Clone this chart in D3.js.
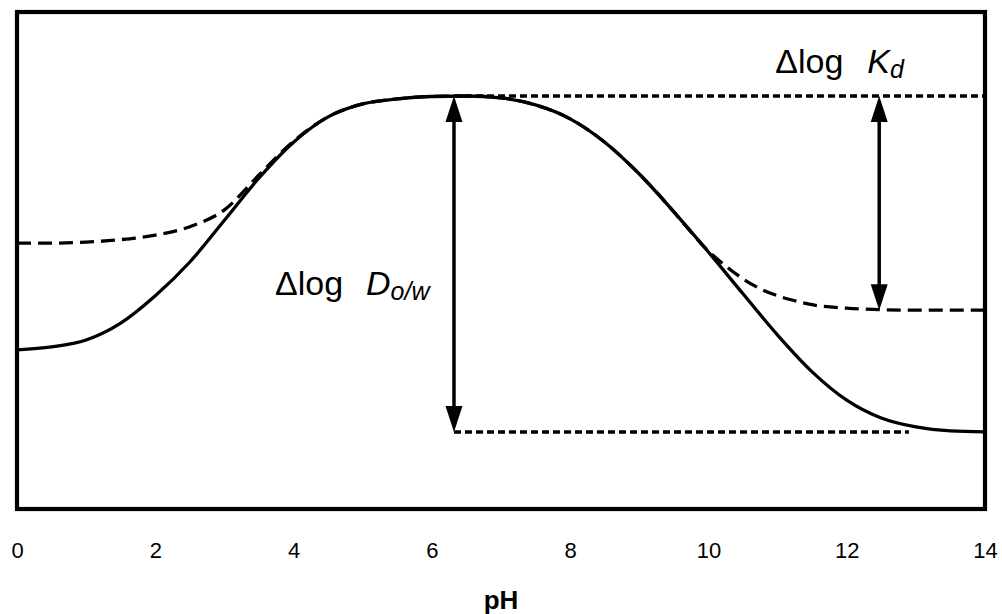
<!DOCTYPE html>
<html>
<head>
<meta charset="utf-8">
<script src="https://cdn.jsdelivr.net/npm/d3@7"></script>
<style>
  html, body { margin: 0; padding: 0; background: #fff; }
  svg { display: block; font-family: "Liberation Sans", Arial, sans-serif; }
</style>
</head>
<body>
<svg id="chart" width="1002" height="614"></svg>
<script>
// pH grid for the solid curve (log D o/w)
const phSolid = [0, 0.5, 1, 1.5, 2, 2.5, 3, 3.5, 4, 4.5, 5, 5.5, 6, 6.5, 7, 7.5,
                 8, 8.5, 9, 9.5, 10, 10.5, 11, 11.5, 12, 12.5, 13, 13.5, 14];
const logDow = [3.20, 3.26, 3.40, 3.74, 4.29, 4.97, 5.81, 6.66, 7.38, 7.89, 8.15, 8.25, 8.30, 8.31, 8.27, 8.13,
                7.85, 7.38, 6.74, 5.98, 5.17, 4.33, 3.50, 2.76, 2.19, 1.83, 1.65, 1.57, 1.55];

// pH grid for the dashed curve (log Kd)
const phDashed = [0, 0.5, 1, 1.5, 2, 2.5, 3, 3.5, 4, 4.5, 5, 5.5, 6, 6.5, 7, 7.5,
                  8, 8.5, 9, 9.5, 9.75, 10, 10.25, 10.5, 10.75, 11, 11.25, 11.5, 12, 12.5, 13, 14];
const logKd = [5.35, 5.35, 5.37, 5.42, 5.51, 5.68, 6.02, 6.72, 7.40, 7.89, 8.15, 8.25, 8.30, 8.31, 8.27, 8.13,
               7.85, 7.38, 6.74, 5.98, 5.57, 5.19, 4.89, 4.63, 4.43, 4.29, 4.19, 4.11, 4.04, 4.01, 4.00, 4.00];

const xTicks = [0, 2, 4, 6, 8, 10, 12, 14];

// where the two span arrows sit (pH) and how far the lower reference line runs
const dowArrowPH = 6.32;
const kdArrowPH = 12.47;
const lowerRefEndPH = 12.9;

const svg = d3.select("#chart");
const plotLeft = 17, plotRight = 985, plotTop = 12, plotBottom = 509;

const x = d3.scaleLinear().domain([0, 14]).range([plotLeft, plotRight]);
const y = d3.scaleLinear().domain([0, 10]).range([plotBottom, plotTop]);

const line = d3.line()
  .x(d => x(d[0]))
  .y(d => y(d[1]))
  .curve(d3.curveMonotoneX);

const solidPts = phSolid.map((p, i) => [p, logDow[i]]);
const dashedPts = phDashed.map((p, i) => [p, logKd[i]]);

const yMax = d3.max(logDow);
const yMinDow = d3.min(logDow);
const kdPlateau = logKd[logKd.length - 1];

// curves
svg.append("path").attr("d", line(dashedPts))
  .attr("fill", "none").attr("stroke", "#000").attr("stroke-width", 3.3)
  .attr("stroke-dasharray", "14,7");
svg.append("path").attr("d", line(solidPts))
  .attr("fill", "none").attr("stroke", "#000").attr("stroke-width", 3.3);

// horizontal reference lines
svg.append("line")
  .attr("x1", x(dowArrowPH)).attr("x2", x(14))
  .attr("y1", y(yMax)).attr("y2", y(yMax))
  .attr("stroke", "#000").attr("stroke-width", 3.4).attr("stroke-dasharray", "7,4");
svg.append("line")
  .attr("x1", x(dowArrowPH)).attr("x2", x(lowerRefEndPH))
  .attr("y1", y(yMinDow)).attr("y2", y(yMinDow))
  .attr("stroke", "#000").attr("stroke-width", 3.4).attr("stroke-dasharray", "7,4");

// double-headed vertical arrows
function doubleArrow(ph, v1, v2) {
  const ax = x(ph), yTop = y(Math.max(v1, v2)), yBot = y(Math.min(v1, v2));
  const headL = 26, headW = 8.5;
  const g = svg.append("g");
  g.append("line").attr("x1", ax).attr("x2", ax)
    .attr("y1", yTop + headL - 2).attr("y2", yBot - headL + 2)
    .attr("stroke", "#000").attr("stroke-width", 3.5);
  g.append("path")
    .attr("d", `M${ax},${yTop} L${ax - headW},${yTop + headL} L${ax + headW},${yTop + headL} Z`)
    .attr("fill", "#000");
  g.append("path")
    .attr("d", `M${ax},${yBot} L${ax - headW},${yBot - headL} L${ax + headW},${yBot - headL} Z`)
    .attr("fill", "#000");
}
doubleArrow(dowArrowPH, yMax, yMinDow);
doubleArrow(kdArrowPH, yMax, kdPlateau);

// plot frame
svg.append("rect")
  .attr("x", plotLeft).attr("y", plotTop)
  .attr("width", plotRight - plotLeft).attr("height", plotBottom - plotTop)
  .attr("fill", "none").attr("stroke", "#000").attr("stroke-width", 4.2);

// x axis labels
const xAxis = d3.axisBottom(x).tickValues(xTicks).tickSize(0).tickPadding(33);
const axG = svg.append("g").attr("transform", `translate(0,${plotBottom})`).call(xAxis);
axG.select(".domain").remove();
axG.selectAll("text")
  .attr("font-family", "'Liberation Sans', Arial, sans-serif")
  .attr("font-size", 22).attr("fill", "#000");

svg.append("text")
  .attr("x", (plotLeft + plotRight) / 2).attr("y", 609)
  .attr("text-anchor", "middle")
  .attr("font-size", 26).attr("font-weight", "bold")
  .text("pH");

// annotation labels
function spanLabel(xStart, xVar, baseline, symbol, sub) {
  const t = svg.append("text").attr("y", baseline).attr("font-size", 34).attr("fill", "#000");
  t.append("tspan").attr("x", xStart).text("\u0394log");
  t.append("tspan").attr("x", xVar).attr("font-style", "italic").text(symbol);
  t.append("tspan").attr("font-style", "italic").attr("font-size", 25)
    .attr("dy", 5).text(sub);
}
spanLabel(x(dowArrowPH) - 179, x(dowArrowPH) - 88, 295, "D", "o/w");
spanLabel(x(kdArrowPH) - 104, x(kdArrowPH) - 12, 73, "K", "d");
</script>
</body>
</html>
